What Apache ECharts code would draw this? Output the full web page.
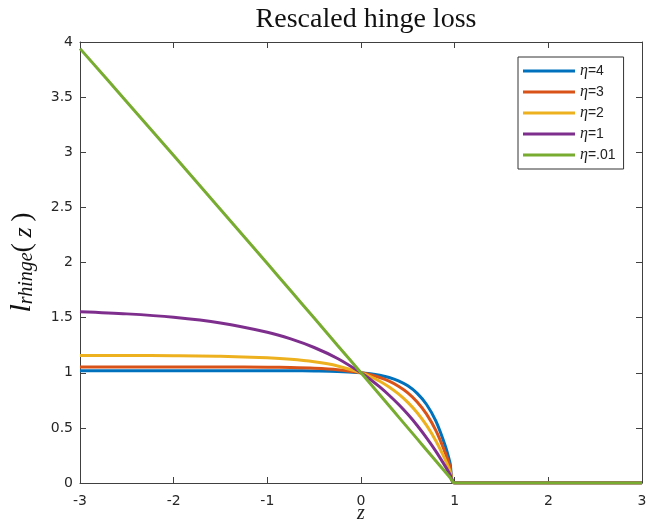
<!DOCTYPE html>
<html><head><meta charset="utf-8">
<script src="https://cdn.jsdelivr.net/npm/echarts@6/dist/echarts.min.js"></script>
<style>html,body{margin:0;padding:0;background:#fff}#c{width:654px;height:522px}</style>
</head><body><div id="c"></div>
<script>
const zVals = [-3,-2.5,-2,-1.5,-1,-0.75,-0.5,-0.25,0,0.1,0.2,0.3,0.4,0.5,0.6,0.7,0.8,0.9,0.95,1,2,3];
const eta4  = [1.019,1.019,1.019,1.019,1.018,1.018,1.016,1.012,1.0,0.991,0.977,0.957,0.926,0.881,0.813,0.712,0.561,0.336,0.185,0,0,0];
const eta3  = [1.052,1.052,1.052,1.052,1.050,1.047,1.041,1.028,1.0,0.982,0.957,0.924,0.878,0.818,0.735,0.625,0.475,0.273,0.147,0,0,0];
const eta2  = [1.156,1.156,1.154,1.149,1.135,1.122,1.099,1.062,1.0,0.965,0.923,0.871,0.808,0.731,0.637,0.522,0.381,0.210,0.110,0,0,0];
const eta1  = [1.553,1.534,1.503,1.452,1.368,1.307,1.229,1.129,1.0,0.939,0.871,0.796,0.714,0.623,0.522,0.410,0.287,0.151,0.077,0,0,0];
const eta01 = [3.940,3.456,2.970,2.481,1.990,1.743,1.496,1.248,1.0,0.900,0.800,0.700,0.600,0.500,0.400,0.300,0.200,0.100,0.050,0,0,0];
const seriesNames = ['4','3','2','1','.01'];
const seriesData = [eta4, eta3, eta2, eta1, eta01];
const colors = ['#0072BD','#D95319','#EDB120','#7E2F8E','#77AC30'];

const axisCol = '#404040';
const tickFont = {fontFamily:'DejaVu Sans, sans-serif', fontSize:14, color:'#262626'};

const chart = echarts.init(document.getElementById('c'), null, {renderer:'canvas'});
const series = seriesData.map((arr,i)=>({
  name: seriesNames[i],
  type:'line',
  data: arr.map((v,j)=>[zVals[j], v]),
  smooth: 0.3,
  showSymbol:false,
  lineStyle:{width:3, color:colors[i]},
  itemStyle:{color:colors[i]},
  xAxisIndex:0, yAxisIndex:0,
  z: 2+i
}));

chart.setOption({
  animation:false,
  backgroundColor:'#fff',
  title:{
    text:'Rescaled hinge loss',
    left:361, top:1, textAlign:'center',
    textStyle:{fontFamily:'Liberation Serif, DejaVu Serif, serif', fontSize:28, fontWeight:'normal', color:'#111'}
  },
  grid:{left:80, right:12, top:42, bottom:39, containLabel:false, outerBoundsMode:'none'},
  legend:{
    orient:'vertical',
    left:518, top:57,
    padding:[6,8,6,5],
    itemGap:5,
    itemWidth:52, itemHeight:3,
    icon:'rect',
    borderColor:'#333', borderWidth:1,
    backgroundColor:'#fff',
    data: seriesNames,
    formatter: n => '{e|η}{t|=' + n + '}',
    textStyle:{
      lineHeight:15,
      rich:{
        e:{fontFamily:'Liberation Serif, serif', fontStyle:'italic', fontSize:16, color:'#222', lineHeight:15},
        t:{fontFamily:'Liberation Sans, Arial, sans-serif', fontSize:14, color:'#222', lineHeight:15}
      }
    }
  },
  xAxis:[{
    type:'value', min:-3, max:3, interval:1,
    name:'z', nameLocation:'middle', nameGap:21, nameMoveOverlap:false,
    nameTextStyle:{fontFamily:'Liberation Serif, serif', fontStyle:'italic', fontSize:20, color:'#222'},
    axisLine:{show:true, onZero:false, lineStyle:{color:axisCol, width:1}},
    axisTick:{show:true, inside:true, length:6, lineStyle:{color:axisCol}},
    axisLabel:Object.assign({margin:11}, tickFont),
    splitLine:{show:false}
  },{
    type:'value', min:-3, max:3, interval:1, position:'top',
    axisLine:{show:true, onZero:false, lineStyle:{color:axisCol, width:1}},
    axisTick:{show:true, inside:true, length:6, lineStyle:{color:axisCol}},
    axisLabel:{show:false}, splitLine:{show:false}
  }],
  yAxis:[{
    type:'value', min:0, max:4, interval:0.5,
    name:'{l|l}{s|rhinge}{p|(\u2009}{z|z}{p|\u2009)}', nameLocation:'middle', nameGap:43, nameRotate:90, nameMoveOverlap:false,
    nameTextStyle:{
      rich:{
        l:{fontFamily:'Liberation Serif, serif', fontStyle:'italic', fontSize:30, color:'#111', verticalAlign:'bottom', lineHeight:30},
        s:{fontFamily:'Liberation Serif, serif', fontStyle:'italic', fontSize:20, color:'#111', verticalAlign:'bottom', lineHeight:20},
        p:{fontFamily:'Liberation Serif, serif', fontSize:28, color:'#111', verticalAlign:'bottom', lineHeight:30},
        z:{fontFamily:'Liberation Serif, serif', fontStyle:'italic', fontSize:26, color:'#111', verticalAlign:'bottom', lineHeight:30}
      }
    },
    axisLine:{show:true, onZero:false, lineStyle:{color:axisCol, width:1}},
    axisTick:{show:true, inside:true, length:6, lineStyle:{color:axisCol}},
    axisLabel:Object.assign({margin:7, formatter: v => String(v)}, tickFont),
    splitLine:{show:false}
  },{
    type:'value', min:0, max:4, interval:0.5, position:'right',
    axisLine:{show:true, onZero:false, lineStyle:{color:axisCol, width:1}},
    axisTick:{show:true, inside:true, length:6, lineStyle:{color:axisCol}},
    axisLabel:{show:false}, splitLine:{show:false}
  }],
  series: series
});
</script>
</body></html>
